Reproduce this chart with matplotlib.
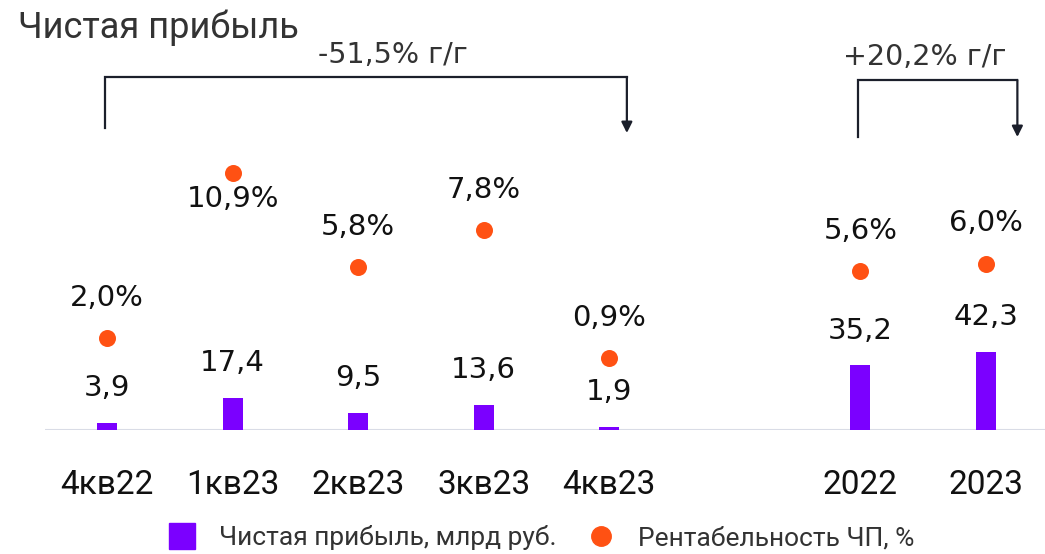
import matplotlib
matplotlib.use("Agg")
import matplotlib.pyplot as plt
from matplotlib.lines import Line2D

plt.rcParams['font.family'] = ['Roboto', 'DejaVu Sans']

categories = ["4кв22", "1кв23", "2кв23", "3кв23", "4кв23", "2022", "2023"]
positions = [0, 1, 2, 3, 4, 6, 7]
profit = [3.9, 17.4, 9.5, 13.6, 1.9, 35.2, 42.3]
margin = [2.0, 10.9, 5.8, 7.8, 0.9, 5.6, 6.0]
margin_label_below = [False, True, False, False, False, False, False]
title = "Чистая прибыль"
change_q = "-51,5% г/г"
change_y = "+20,2% г/г"
legend_labels = ["Чистая прибыль, млрд руб.", "Рентабельность ЧП, %"]

PURPLE = "#7B00FF"
ORANGE = "#FF5113"
DARK = "#1B1F2B"
NUMFONT = ['DejaVu Sans']

def fmt(v):
    return f"{v:.1f}".replace(".", ",")

fig = plt.figure(figsize=(10.45, 5.54), dpi=100)
ax = fig.add_axes([45/1045, 124/554, 1000/1045, 330/554])
ax2 = ax.twinx()

ax.set_xlim(-0.494, 7.47)
ax.set_ylim(0, 330/1.84)
ax2.set_ylim((375-430)/18.54, (375-100)/18.54)

ax.bar(positions, profit, width=0.16, color=PURPLE, zorder=3)
ax2.scatter(positions, margin, s=150, color=ORANGE, zorder=4, linewidths=0)

for x, v in zip(positions, profit):
    ax.annotate(fmt(v), (x, v), xytext=(0, 25), textcoords="offset points",
                ha="center", va="center", fontsize=21, color="#111111", family=NUMFONT)
for x, v, below in zip(positions, margin, margin_label_below):
    off = -19 if below else 29
    ax2.annotate(fmt(v) + "%", (x, v), xytext=(0, off), textcoords="offset points",
                 ha="center", va="center", fontsize=21, color="#111111", family=NUMFONT)

for s in ["top", "right", "left", "bottom"]:
    ax.spines[s].set_visible(False)
    ax2.spines[s].set_visible(False)
ax.axhline(0, color="#D9DCE6", lw=1.5, zorder=2)
ax.set_yticks([])
ax2.set_yticks([])
ax.set_xticks(positions)
ax.set_xticklabels(categories, fontsize=24, color="#111111")
ax.tick_params(axis="x", length=0, pad=28)

# Title
fig.text(18/1045, 1 - 28/554, title, fontsize=26, color="#333333", ha="left", va="center")

trans = ax.get_xaxis_transform()
def bracket(x0, x1, y_top_px, y_left_px, y_tip_px, label, label_dx, label_y_px):
    yt = 1 - (y_top_px - 100) / 330
    yl = 1 - (y_left_px - 100) / 330
    yb = 1 - (y_tip_px - 100) / 330
    ax.plot([x0, x0, x1], [yl, yt, yt], transform=trans, color=DARK, lw=1.6,
            clip_on=False, solid_joinstyle="miter")
    ax.annotate("", xy=(x1, yb), xytext=(x1, yt), xycoords=trans, textcoords=trans,
                arrowprops=dict(arrowstyle="-|>", color=DARK, lw=1.6,
                                mutation_scale=16, shrinkA=0, shrinkB=0),
                annotation_clip=False)
    ax.text((x0 + x1) / 2 + label_dx, 1 - (label_y_px - 100) / 330, label, transform=trans,
            ha="center", va="center", fontsize=20.5, color="#333333", clip_on=False,
            family=NUMFONT)

bracket(positions[0] - 0.015, positions[4] + 0.14, 77, 128, 133, change_q, 0.21, 55)
bracket(positions[5] - 0.02, positions[6] + 0.25, 80, 137, 137, change_y, -0.1, 57)

# Legend
handles = [Line2D([], [], marker="s", ls="", color=PURPLE, markersize=19),
           Line2D([], [], marker="o", ls="", color=ORANGE, markersize=14)]
leg = fig.legend(handles, legend_labels, loc="center", bbox_to_anchor=(0.518, 1 - 538/554),
                 ncol=2, frameon=False, fontsize=19, handlelength=1.0, handletextpad=0.9,
                 columnspacing=1.2)
for t in leg.get_texts():
    t.set_color("#333333")

fig.savefig("out.png", dpi=100)
